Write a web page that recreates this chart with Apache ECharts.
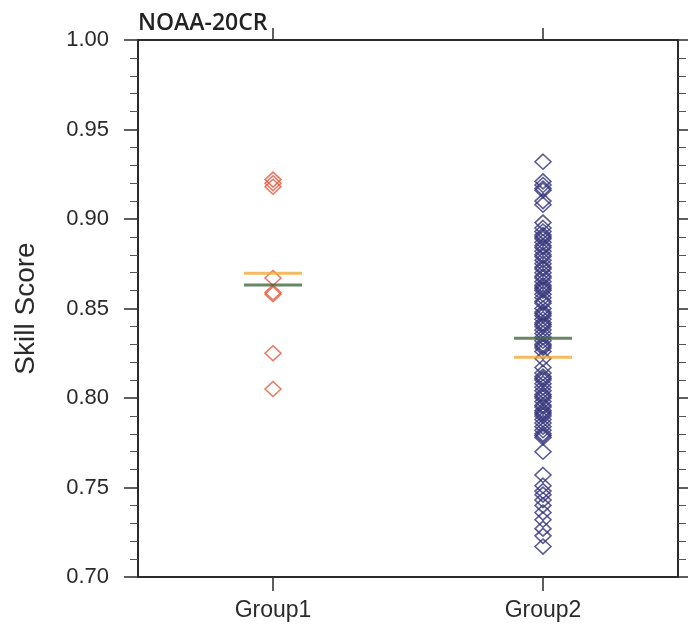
<!DOCTYPE html>
<html>
<head>
<meta charset="utf-8">
<script src="https://cdn.jsdelivr.net/npm/echarts@6/dist/echarts.min.js"></script>
<style>
html,body{margin:0;padding:0;background:#fff;}
#chart{width:688px;height:636px;}
</style>
</head>
<body>
<div id="chart"></div>
<script>
const categories = ['Group1', 'Group2'];
const group1Scores = [0.922, 0.920, 0.918, 0.867, 0.859, 0.858, 0.825, 0.805];
const group2Scores = [
  0.932, 0.921, 0.919, 0.917, 0.916, 0.910, 0.908,
  0.898, 0.895, 0.893, 0.891, 0.890, 0.889, 0.887, 0.885, 0.884, 0.882, 0.880, 0.879, 0.877,
  0.875, 0.873, 0.872, 0.870, 0.868, 0.867, 0.865, 0.863, 0.862, 0.861, 0.860, 0.858, 0.856,
  0.854, 0.853, 0.850, 0.848, 0.847, 0.846, 0.844, 0.842, 0.841, 0.840, 0.838, 0.836, 0.834,
  0.832, 0.830, 0.829, 0.828, 0.826,
  0.822,
  0.817, 0.814, 0.812, 0.811, 0.810, 0.808, 0.806, 0.804, 0.802, 0.801, 0.800, 0.798,
  0.796, 0.795, 0.793, 0.792, 0.791, 0.790, 0.788, 0.786, 0.784, 0.782, 0.780, 0.779, 0.778,
  0.770,
  0.757, 0.751, 0.748, 0.746, 0.743, 0.740, 0.736, 0.732, 0.727, 0.723, 0.717
];
const orangeLine = [0.8697, 0.8227];
const greenLine = [0.8631, 0.8334];
const yMin = 0.70, yMax = 1.00, yStep = 0.05;
const titleText = 'NOAA-20CR';
const yName = 'Skill Score';

const axisColor = '#2b2b2b';
const font = 'Liberation Sans, Arial, Helvetica, sans-serif';

const chart = echarts.init(document.getElementById('chart'));
chart.setOption({
  backgroundColor: '#ffffff',
  animation: false,
  title: {
    text: titleText,
    left: 133, top: 7,
    textStyle: { fontFamily: 'Open Sans, Noto Sans, sans-serif', fontSize: 23, fontWeight: 600, color: '#222' }
  },
  grid: { left: 138, right: 10, top: 40, bottom: 59 },
  xAxis: [
    {
      type: 'category', data: categories, position: 'bottom',
      boundaryGap: true,
      axisLine: { show: true, lineStyle: { color: axisColor, width: 2 } },
      axisTick: { show: true, alignWithLabel: true, inside: false, length: 14, lineStyle: { color: axisColor, width: 1.5 } },
      axisLabel: { fontFamily: font, fontSize: 23, color: '#2a2a2a', margin: 22 },
      splitLine: { show: false }
    },
    {
      type: 'category', data: categories, position: 'top',
      boundaryGap: true,
      axisLine: { show: true, lineStyle: { color: axisColor, width: 2 } },
      axisTick: { show: true, alignWithLabel: true, inside: false, length: 12, lineStyle: { color: axisColor, width: 1.5 } },
      axisLabel: { show: false },
      splitLine: { show: false }
    }
  ],
  yAxis: [
    {
      type: 'value', position: 'left', min: yMin, max: yMax, interval: yStep,
      name: yName, nameLocation: 'middle', nameGap: 98, nameRotate: 90,
      nameTextStyle: { fontFamily: font, fontSize: 28, color: '#2a2a2a' },
      axisLine: { show: true, lineStyle: { color: axisColor, width: 2 } },
      axisTick: { show: true, inside: false, length: 14, lineStyle: { color: axisColor, width: 1.5 } },
      minorTick: { show: true, splitNumber: 5, length: 8, lineStyle: { color: '#555', width: 1 } },
      axisLabel: { fontFamily: font, fontSize: 22, color: '#2a2a2a', margin: 29, formatter: v => v.toFixed(2) },
      splitLine: { show: false }
    },
    {
      type: 'value', position: 'right', min: yMin, max: yMax, interval: yStep,
      axisLine: { show: true, lineStyle: { color: axisColor, width: 2 } },
      axisTick: { show: true, inside: false, length: 14, lineStyle: { color: axisColor, width: 1.5 } },
      minorTick: { show: true, splitNumber: 5, length: 8, lineStyle: { color: '#555', width: 1 } },
      axisLabel: { show: false },
      splitLine: { show: false }
    }
  ],
  series: [
    {
      type: 'scatter', name: 'Group1',
      data: group1Scores.map(v => [categories[0], v]),
      symbol: 'diamond', symbolSize: [16, 15],
      itemStyle: { color: 'rgba(0,0,0,0)', borderColor: '#E5563D', borderWidth: 1.5 }
    },
    {
      type: 'scatter', name: 'Group2',
      data: group2Scores.map(v => [categories[1], v]),
      symbol: 'diamond', symbolSize: [16, 15],
      itemStyle: { color: 'rgba(0,0,0,0)', borderColor: '#34347C', borderWidth: 1.6 }
    },
    {
      type: 'scatter', name: 'orange',
      data: orangeLine.map((v, i) => [categories[i], v]),
      symbol: 'rect', symbolSize: [58, 3], z: 5,
      itemStyle: { color: '#F1A935' }
    },
    {
      type: 'scatter', name: 'green',
      data: greenLine.map((v, i) => [categories[i], v]),
      symbol: 'rect', symbolSize: [58, 3], z: 5,
      itemStyle: { color: '#41693F' }
    }
  ]
});
</script>
</body>
</html>
